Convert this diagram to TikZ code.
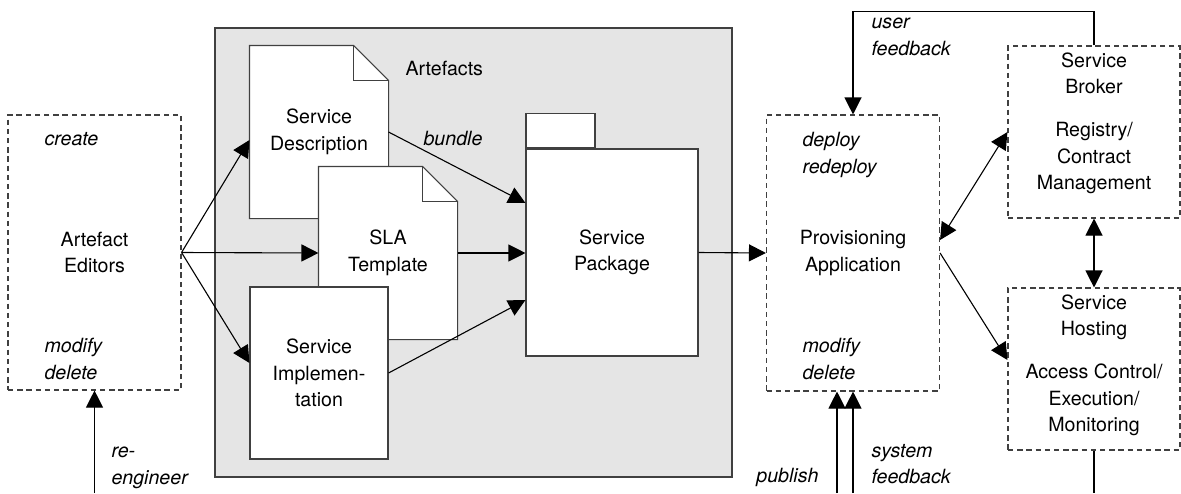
\documentclass[tikz,border=0pt]{standalone}
\usepackage{fontspec}
\setmainfont{TeX Gyre Heros}
\usetikzlibrary{arrows.meta, calc}

% outline of an artefact document with a folded corner
\newcommand{\docoutline}[1]{%
  \filldraw[draw=black!75, fill=white] (#1.north west) -- ([xshift=-17.5pt]#1.north east)
    -- ([yshift=-17.5pt]#1.north east) -- (#1.south east) -- (#1.south west) -- cycle;
  \draw[black!75] ([xshift=-17.5pt]#1.north east) |- ([yshift=-17.5pt]#1.north east);}

\begin{document}
\begin{tikzpicture}[x=0.5pt, y=-0.5pt, >={Triangle[length=8.5pt, width=8.5pt]},
  font=\fontsize{9.8}{13.3}\selectfont, line width=0.55pt,
  tool/.style={draw=black!75, dash pattern=on 2.7pt off 1.9pt, minimum width=86.5pt, inner sep=0pt, align=center},
  doc/.style={minimum width=69pt, minimum height=86pt, inner sep=0pt, align=center},
  box/.style={draw=black!75, fill=white, inner sep=0pt, align=center},
  act/.style={font=\fontsize{9.8}{13.3}\selectfont\itshape, inner sep=0pt, align=left}]

\useasboundingbox (0,0) rectangle (1181,493);

% ---------------------------------------------------------------
% tools: editors and provisioning
% ---------------------------------------------------------------
\node[tool, minimum height=137.5pt] (editors) at (94.5,252.5) {Artefact\\Editors};
\node[act, anchor=west] (edcreate) at (44,139) {create};
\node[act, anchor=west] (edmodify) at (44,359) {modify\\delete};

\node[tool, minimum height=138pt] (prov) at (853,253) {Provisioning\\Application};
\node[act, anchor=west] (prdeploy) at (802,155) {deploy\\redeploy};
\node[act, anchor=west] (prmodify) at (802,359) {modify\\delete};

% ---------------------------------------------------------------
% the artefacts
% ---------------------------------------------------------------
\node[draw=black!75, fill=black!10, minimum width=258.5pt, minimum height=224.5pt] (artefacts) at (473.5,252.5) {};
\node[anchor=west, inner sep=0pt] (artlabel) at (405,68) {Artefacts};

\node[doc] (sd) at (319,132) {};
\docoutline{sd}
\node[align=center] (sdtext) at (sd) {Service\\Description};

\node[doc] (sla) at (388,253) {};
\docoutline{sla}
\node[align=center] (slatext) at (sla) {SLA\\Template};

\node[box, minimum width=69pt, minimum height=86pt] (si) at (319,373) {Service\\Implemen-\\tation};

\node[box, minimum width=86pt, minimum height=103.5pt] (pkg) at (612,252.5) {Service\\Package};
\node[box, minimum width=34.5pt, minimum height=17pt, anchor=south west] (pkgtab) at (pkg.north west) {};

% ---------------------------------------------------------------
% runtime side: broker and hosting
% ---------------------------------------------------------------
\node[tool, minimum width=86pt, minimum height=86pt] (broker) at (1094,132) {};
\node[anchor=north, inner sep=3.3pt, align=center] (brokertext) at (broker.north)
  {Service\\Broker\\[8pt]Registry/\\Contract\\Management};

\node[tool, minimum width=86pt, minimum height=81pt] (host) at (1094,369) {};
\node[anchor=north, inner sep=3.3pt, align=center] (hosttext) at (host.north)
  {Service\\Hosting\\[8pt]Access Control/\\Execution/\\Monitoring};

% ---------------------------------------------------------------
% connectors
% ---------------------------------------------------------------
\draw[->] (editors.east) -- ([yshift=-4pt]sd.west);
\draw[->] (editors.east) -- (sla.west);
\draw[->] (editors.east) -- ([yshift=5pt]si.west);

\draw[->] (sd.east) -- ([yshift=24.75pt]pkg.west);
\node[act, anchor=west] (bundle) at (423,138) {bundle};
\draw[->] (sla.east) -- (sla.east -| pkg.west);
\draw[->] (si.east) -- ([yshift=-23.75pt]pkg.west);

\draw[->] (pkg.east) -- (prov.west);
\draw[<->] ([yshift=6.5pt]prov.east) -- (broker.west);
\draw[->] (prov.east) -- ([yshift=4.5pt]host.west);
\draw[<->] (broker.south) -- (host.north);

\coordinate (hostout) at (1094,493);
\draw (host.south) -- (hostout);

\draw[->] (broker.north) -- ++(0,-34) -| (prov.north);
\node[act, anchor=west] (userfb) at (871,37) {user\\feedback};

\coordinate (pubin) at (837,493);
\coordinate (sysin) at (853,493);
\draw[->] (pubin) -- (pubin |- prov.south);
\draw[->] (sysin) -- (prov.south);
\node[act, anchor=east] (publish) at (819,477) {publish};
\node[act, anchor=west] (sysfb) at (871,464) {system\\feedback};

\coordinate (reengin) at (94.5,493);
\draw[->] (reengin) -- (editors.south);
\node[act, anchor=west] (reeng) at (111,468) {re-\\engineer};

\end{tikzpicture}
\end{document}
